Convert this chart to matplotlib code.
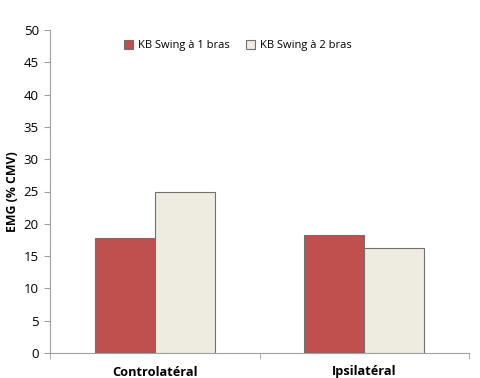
import matplotlib
matplotlib.use("Agg")
import matplotlib.pyplot as plt
import numpy as np

plt.rcParams["font.family"] = ["Open Sans", "DejaVu Sans"]

CATEGORIES = ["Controlatéral", "Ipsilatéral"]
SERIES_NAMES = ["KB Swing à 1 bras", "KB Swing à 2 bras"]
ONE_ARM = [17.8, 18.2]
TWO_ARM = [25.0, 16.3]
Y_TICKS = [0, 5, 10, 15, 20, 25, 30, 35, 40, 45, 50]

RED = "#c0504d"
BEIGE = "#eeece1"
EDGE = "#707070"
AXIS = "#a0a0a0"

fig = plt.figure(figsize=(4.8, 3.78), dpi=100)
ax = fig.add_axes([50 / 480, 1 - 353 / 378, 419 / 480, 323 / 378])

x = np.arange(len(CATEGORIES))
w = 0.286
ax.bar(x - w / 2, ONE_ARM, w, color=RED, edgecolor=EDGE, lw=0.8,
       label=SERIES_NAMES[0], zorder=3)
ax.bar(x + w / 2, TWO_ARM, w, color=BEIGE, edgecolor=EDGE, lw=0.8,
       label=SERIES_NAMES[1], zorder=3)

ax.set_xlim(-0.5, 1.5)
ax.set_ylim(0, 50)
ax.set_yticks(Y_TICKS)
ax.tick_params(axis="y", labelsize=9.5, length=4, color=AXIS, pad=4)
ax.set_xticks(x)
ax.set_xticklabels(CATEGORIES, fontsize=9.2, fontweight="bold")
ax.tick_params(axis="x", length=0, pad=9)
# category separators on the x axis
ax.set_xticks([-0.5, 0.5, 1.5], minor=True)
ax.tick_params(axis="x", which="minor", length=4, color=AXIS)

for side in ("top", "right"):
    ax.spines[side].set_visible(False)
for side in ("left", "bottom"):
    ax.spines[side].set_color(AXIS)
    ax.spines[side].set_linewidth(0.8)

ax.set_ylabel("EMG (% CMV)", fontsize=8.8, fontweight="bold", labelpad=3)

ax.legend(loc="upper center", bbox_to_anchor=(0.448, 1.0), ncol=2,
          frameon=False, fontsize=8, handlelength=0.8, handleheight=0.8,
          handletextpad=0.45, columnspacing=1.5)

fig.savefig("out.png", dpi=100)
